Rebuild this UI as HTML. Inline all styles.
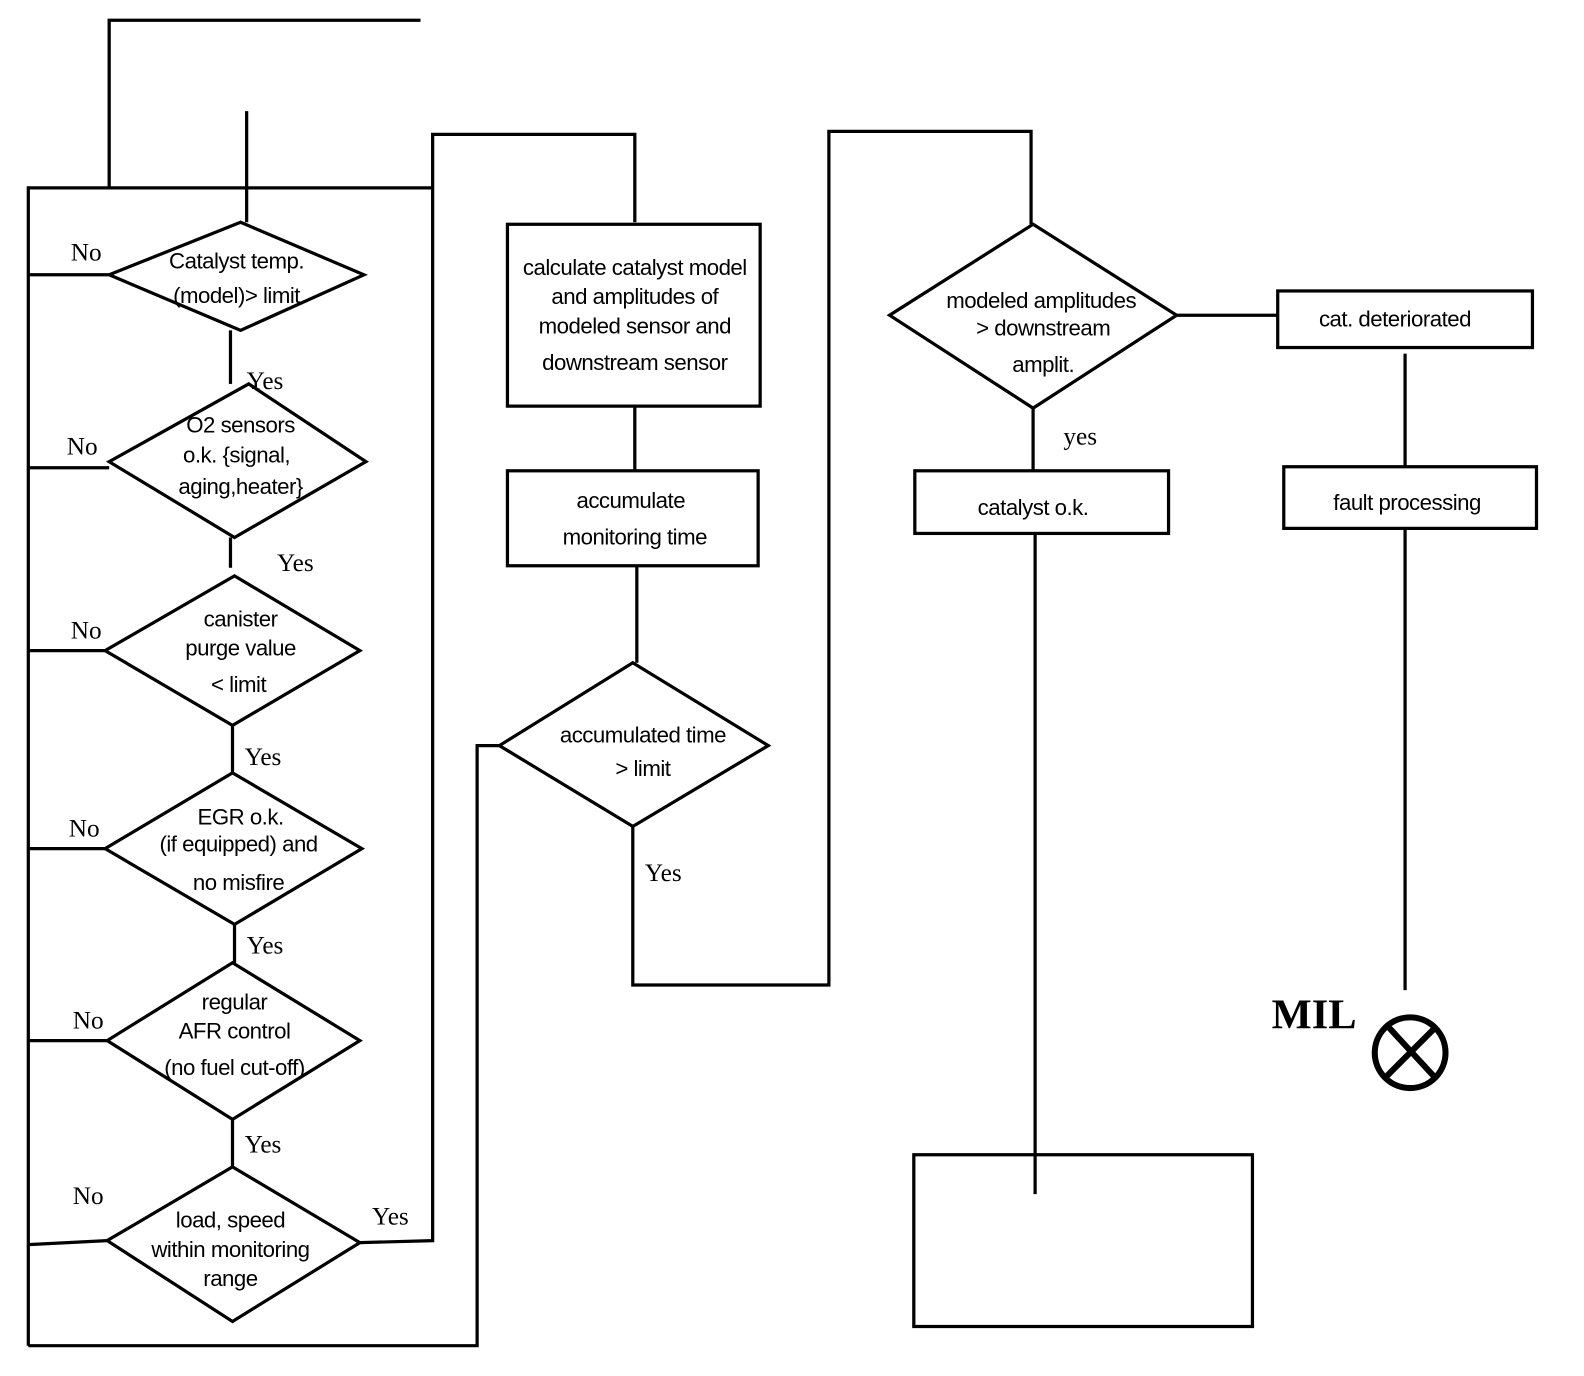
<!DOCTYPE html>
<html><head><meta charset="utf-8"><style>
html,body{margin:0;padding:0;background:#fff}
svg{display:block}
.s{font-family:"Liberation Sans",sans-serif;font-size:22px;letter-spacing:-0.5px}
.r{font-family:"Liberation Serif",serif;font-size:25px}
</style></head><body>
<svg width="1584" height="1376" viewBox="0 0 1567 1362" preserveAspectRatio="none" xmlns="http://www.w3.org/2000/svg">
<g fill="none" stroke="#000" stroke-width="3.2">
<polyline points="416,20 108,20 108,186"/>
<line x1="244" y1="110" x2="244" y2="220"/>
<polyline points="28,1332 28,186 428,186"/>
<polyline points="356,1230 428,1228 428,133 628,133 628,220"/>
<polyline points="28,1332 472,1332 472,738 494,738"/>
<polygon points="238,220 360,272 238,327 108,272"/>
<line x1="28" y1="272" x2="108" y2="272"/>
<line x1="228" y1="327" x2="228" y2="380"/>
<polygon points="246,380 362,457 232,532 108,457"/>
<line x1="28" y1="463" x2="108" y2="463"/>
<line x1="228" y1="532" x2="228" y2="562"/>
<polygon points="232,570 356,644 230,718 104,644"/>
<line x1="28" y1="644" x2="104" y2="644"/>
<line x1="230" y1="718" x2="230" y2="765"/>
<polygon points="230,765 358,840 232,915 104,840"/>
<line x1="28" y1="840" x2="104" y2="840"/>
<line x1="232" y1="915" x2="232" y2="953"/>
<polygon points="230,953 356,1030 230,1108 106,1030"/>
<line x1="28" y1="1030" x2="106" y2="1030"/>
<line x1="230" y1="1108" x2="230" y2="1155"/>
<polygon points="230,1155 356,1230 230,1308 106,1228"/>
<line x1="28" y1="1232" x2="106" y2="1228"/>
<rect x="502" y="222" width="250" height="180"/>
<line x1="628" y1="402" x2="628" y2="466"/>
<rect x="502" y="466" width="248" height="94"/>
<line x1="630" y1="560" x2="630" y2="656"/>
<polygon points="626,656 760,738 626,818 494,738"/>
<polyline points="626,818 626,975 820,975 820,130 1020,130 1020,222"/>
<polygon points="1022,222 1164,312 1022,404 880,312"/>
<line x1="1164" y1="312" x2="1264" y2="312"/>
<line x1="1022" y1="404" x2="1022" y2="466"/>
<rect x="905" y="466" width="251" height="62"/>
<line x1="1024" y1="528" x2="1024" y2="1182"/>
<rect x="904" y="1143" width="335" height="170"/>
<rect x="1264" y="288" width="252" height="56"/>
<line x1="1390" y1="350" x2="1390" y2="462"/>
<rect x="1270" y="462" width="250" height="61"/>
<line x1="1390" y1="523" x2="1390" y2="980"/>
<g stroke-width="6"><circle cx="1395" cy="1042" r="35"/>
<line x1="1370" y1="1067" x2="1420" y2="1017"/><line x1="1373" y1="1016" x2="1420" y2="1067"/></g>
</g>
<g class="s" text-anchor="middle">
<text x="234" y="266">Catalyst temp.</text><text x="234" y="300">(model)&gt; limit</text>
<text x="238" y="428">O2 sensors</text><text x="234" y="458">o.k.  {signal,</text><text x="238" y="489">aging,heater}</text>
<text x="238" y="620">canister</text><text x="238" y="649">purge value</text><text x="236" y="685">&lt; limit</text>
<text x="238" y="816">EGR o.k.</text><text x="236" y="843">(if equipped) and</text><text x="236" y="881">no misfire</text>
<text x="232" y="999">regular</text><text x="232" y="1028">AFR control</text><text x="232" y="1064">(no fuel cut-off)</text>
<text x="228" y="1215">load, speed</text><text x="228" y="1244">within monitoring</text><text x="228" y="1273">range</text>
<text x="628" y="272">calculate catalyst model</text><text x="628" y="301">and amplitudes of</text><text x="628" y="330">modeled sensor and</text><text x="628" y="366">downstream sensor</text>
<text x="624" y="503">accumulate</text><text x="628" y="539">monitoring  time</text>
<text x="636" y="735">accumulated time</text><text x="636" y="768">&gt; limit</text>
<text x="1030" y="305">modeled amplitudes</text><text x="1032" y="332">&gt; downstream</text><text x="1032" y="368">amplit.</text>
<text x="1022" y="510">catalyst o.k.</text>
<text x="1380" y="323">cat. deteriorated</text>
<text x="1392" y="505">fault processing</text>
</g>
<g class="r">
<text x="70" y="258">No</text><text x="244" y="385">Yes</text>
<text x="66" y="450">No</text><text x="274" y="565">Yes</text>
<text x="70" y="632">No</text><text x="242" y="757">Yes</text>
<text x="68" y="828">No</text><text x="244" y="944">Yes</text>
<text x="72" y="1018">No</text><text x="242" y="1141">Yes</text>
<text x="72" y="1192">No</text><text x="368" y="1212">Yes</text>
<text x="638" y="872">Yes</text>
<text x="1052" y="440">yes</text>
<text x="1258" y="1018" font-size="42" font-weight="bold">MIL</text>
</g>
</svg>
</body></html>
